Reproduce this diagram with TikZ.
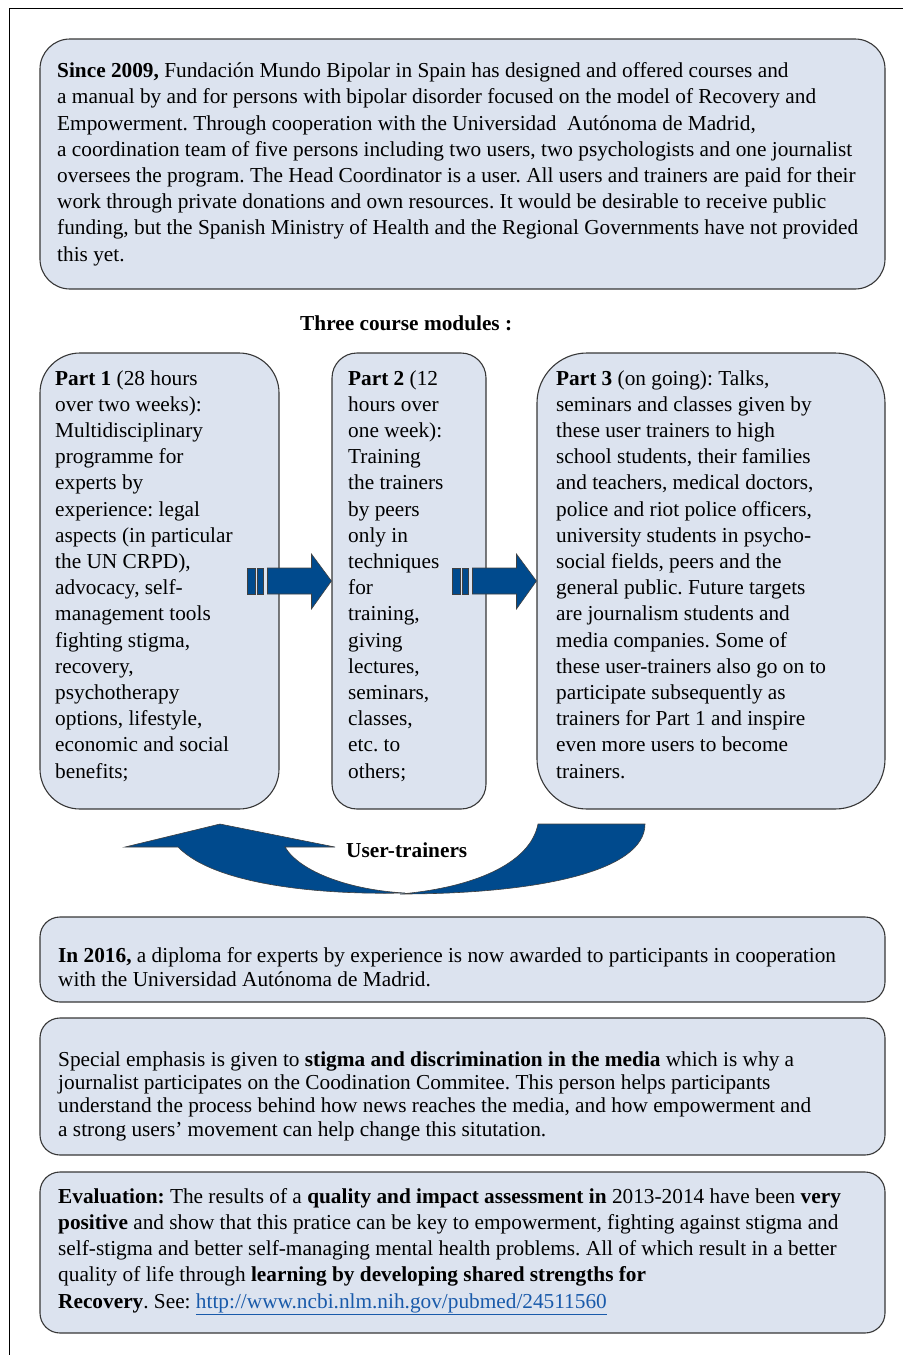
\documentclass[tikz,border=0pt]{standalone}
\usepackage{fontspec}
\setmainfont{Liberation Serif}
\usetikzlibrary{positioning}
\frenchspacing
\definecolor{panelfill}{RGB}{220,227,239}
\definecolor{panelline}{RGB}{55,55,55}
\definecolor{arrowblue}{RGB}{0,74,141}
\definecolor{linkblue}{RGB}{25,90,170}
\tikzset{x=1pt, y=-1pt, % one unit is one pixel of the page, y grows downwards
panel/.style={ % rounded boxes behind the texts
draw=panelline, line width=1.1pt, fill=panelfill, inner sep=0pt},
txt/.style={ % left aligned text, anchored at the baseline of its last line
anchor=base west, align=left, inner sep=0pt,
font=\fontsize{21.3}{#1}\selectfont},
txt/.default=26.2,
bigarrow/.style={ % blue block arrows
fill=arrowblue, draw=black!75, line width=0.6pt, line join=miter}}

\begin{document}
\begin{tikzpicture}

    \useasboundingbox (0,0) rectangle (903,1355);
    \draw[line width=1pt] (9,1355) -- (9,8) -- (903,8);

    % boxes
    \node[panel, rounded corners=30pt, minimum width=845pt, minimum height=250pt] (intro) at (462.5,164) {};
    \node[panel, rounded corners=40pt, minimum width=239pt, minimum height=456pt] (part1) at (159.5,581) {};
    \node[panel, rounded corners=25pt, minimum width=154pt, minimum height=456pt] (part2) at (409,581) {};
    \node[panel, rounded corners=50pt, minimum width=348pt, minimum height=456pt] (part3) at (711,581) {};
    \node[panel, rounded corners=20pt, minimum width=845pt, minimum height=85pt] (diploma) at (462.5,959.5) {};
    \node[panel, rounded corners=20pt, minimum width=845pt, minimum height=137pt] (media) at (462.5,1086.5) {};
    \node[panel, rounded corners=20pt, minimum width=845pt, minimum height=161pt] (eval) at (462.5,1252.5) {};

    % texts (placed at the baseline of the last line)
    \node[txt] (introtext) at (57,261) {\textbf{Since 2009,} Fundación Mundo Bipolar in Spain has designed and offered courses and\\
    a manual by and for persons with bipolar disorder focused on the model of Recovery and\\
    Empowerment. Through cooperation with the Universidad\ \ Autónoma de Madrid,\\
    a coordination team of five persons including two users, two psychologists and one journalist\\
    oversees the program. The Head Coordinator is a user. All users and trainers are paid for their\\
    work through private donations and own resources. It would be desirable to receive public\\
    funding, but the Spanish Ministry of Health and the Regional Governments have not provided\\
    this yet.};

    \node[txt] (modules) at (300,330) {\textbf{Three course modules :}};

    \node[txt] (part1text) at (55,778) {\textbf{Part 1} (28 hours\\ over two weeks):\\ Multidisciplinary\\ programme for\\
    experts by\\ experience: legal\\ aspects (in particular\\ the UN CRPD),\\ advocacy, self-\\ management tools\\
    fighting stigma,\\ recovery,\\ psychotherapy\\ options, lifestyle,\\ economic and social\\ benefits;};
    \node[txt] (part2text) at (348,778) {\textbf{Part 2} (12\\ hours over\\ one week):\\ Training\\ the trainers\\
    by peers\\ only in\\ techniques\\ for\\ training,\\ giving\\ lectures,\\ seminars,\\ classes,\\ etc. to\\ others;};
    \node[txt] (part3text) at (556,778) {\textbf{Part 3} (on going): Talks,\\ seminars and classes given by\\
    these user trainers to high\\ school students, their families\\ and teachers, medical doctors,\\
    police and riot police officers,\\ university students in psycho-\\ social fields, peers and the\\
    general public. Future targets\\ are journalism students and\\ media companies. Some of\\
    these user-trainers also go on to\\ participate subsequently as\\ trainers for Part 1 and inspire\\
    even more users to become\\ trainers.};

    \node[txt=23.3] (diplomatext) at (58,986) {\textbf{In 2016,} a diploma for experts by experience is now awarded to participants in cooperation\\
    with the Universidad Autónoma de Madrid.};
    \node[txt=23.3] (mediatext) at (58,1136) {Special emphasis is given to \textbf{stigma and discrimination in the media} which is why a\\
    journalist participates on the Coodination Commitee. This person helps participants\\
    understand the process behind how news reaches the media, and how empowerment and\\
    a strong users’ movement can help change this situtation.};
    \node[txt] (evaltext) at (58,1308) {\textbf{Evaluation:} The results of a \textbf{quality and impact assessment in} 2013-2014 have been \textbf{very}\\
    \textbf{positive} and show that this pratice can be key to empowerment, fighting against stigma and\\
    self-stigma and better self-managing mental health problems. All of which result in a better\\
    quality of life through \textbf{learning by developing shared strengths for}\\
    \textbf{Recovery}. See: \textcolor{linkblue}{\underline{http://www.ncbi.nlm.nih.gov/pubmed/24511560}}};

    % block arrows between the parts
    \foreach \target in {part2, part3} {
    \begin{scope}[shift={(\target.west)}]
    \path[bigarrow] (-84,-13) rectangle (-76,13);
    \path[bigarrow] (-74,-13) rectangle (-68,13);
    \path[bigarrow] (-64,-13) -- (-20,-13) -- (-20,-27) -- (0,0) -- (-20,28) -- (-20,13) -- (-64,13) -- cycle;
    \end{scope}
    }

    % curved arrow back to part 1
    \path[bigarrow] (538,824) -- (645,824) .. controls (645,872) and (535,894) .. (400,894)
        .. controls (470,888) and (530,865) .. (538,824) -- cycle;
    \path[bigarrow] (125,847) -- (220,824) -- (335,847) -- (285,847)
        .. controls (300,872) and (350,890) .. (405,893)
        .. controls (320,895) and (215,885) .. (178,847) -- cycle;
    \node[txt] (loop) at (346,857) {\textbf{User-trainers}};

\end{tikzpicture}
\end{document}
